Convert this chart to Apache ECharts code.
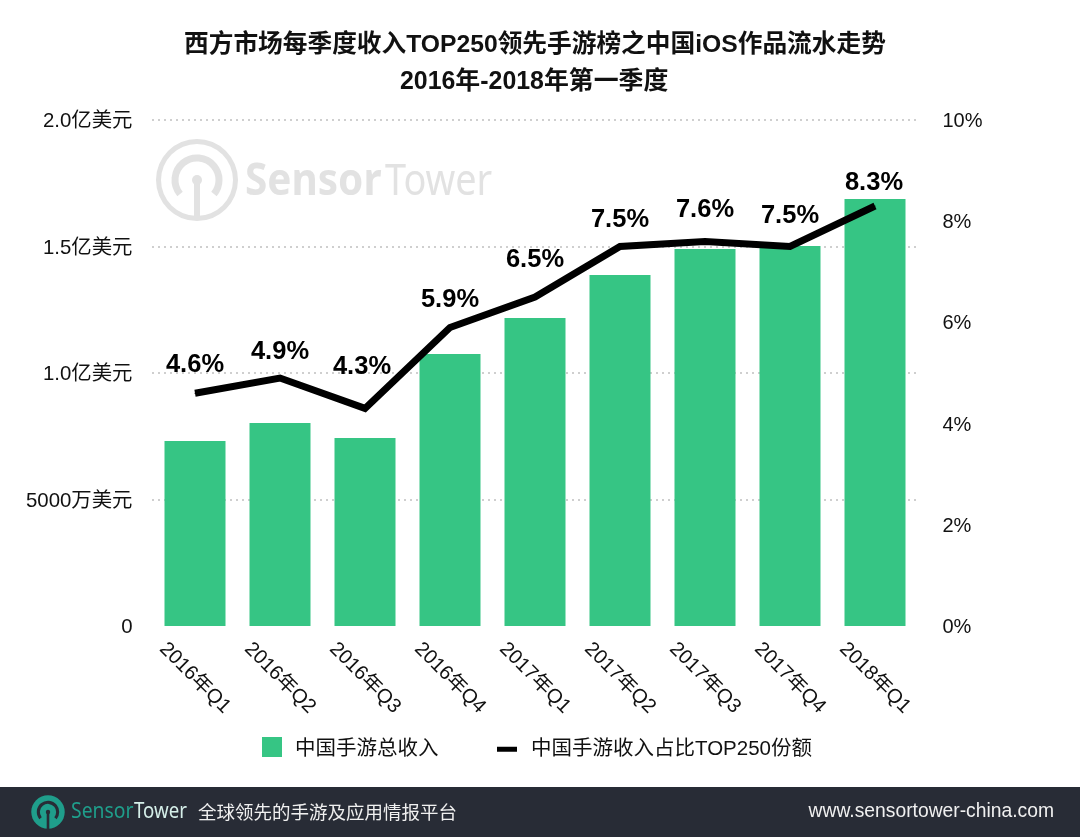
<!DOCTYPE html>
<html>
<head>
<meta charset="utf-8">
<style>html,body{margin:0;padding:0;background:#fff}#main{width:1080px;height:837px}</style>
<script src="https://cdn.jsdelivr.net/npm/echarts@6/dist/echarts.min.js"></script>
</head>
<body>
<div id="main"></div>
<script>
var categories = ['2016年Q1','2016年Q2','2016年Q3','2016年Q4','2017年Q1','2017年Q2','2017年Q3','2017年Q4','2018年Q1'];
// 万美元
var revenue = [7310, 8020, 7430, 10750, 12170, 13870, 14900, 15020, 16880];
var share = [4.6, 4.9, 4.3, 5.9, 6.5, 7.5, 7.6, 7.5, 8.3];
var leftTicks = {0:'0', 5000:'5000万美元', 10000:'1.0亿美元', 15000:'1.5亿美元', 20000:'2.0亿美元'};
var titleLines = ['西方市场每季度收入TOP250领先手游榜之中国iOS作品流水走势', '2016年-2018年第一季度'];
var seriesNames = ['中国手游总收入', '中国手游收入占比TOP250份额'];

var FONT = '"Liberation Sans","Noto Sans CJK SC",sans-serif';
var LOGO_FONT = '"Noto Sans","Noto Sans CJK SC",sans-serif';

// 标签和折线点的距离,原图每个点不一样
var labelGap = [15, 13, 28, 14, 24, 13, 18, 17, 10];
var labelShift = [0, 0, -3, 0, 0, 0, 0, 0, -1];

// 文字整体下移几像素用的rich样式
function nudged(size, top) {
	return { t: { color: '#111', fontSize: size, fontFamily: FONT, padding: [top, 0, 0, 0] } };
}

// 圆形logo,k是缩放
function logo(cx, cy, k, ringColor, inner, filled) {
	var list = [];
	if (filled) {
		list.push({ type: 'circle', silent: true, z: 1, shape: { cx: cx, cy: cy, r: 38 * k }, style: { fill: ringColor } });
	} else {
		list.push({ type: 'ring', silent: true, z: 0, shape: { cx: cx, cy: cy, r: 41 * k, r0: 36 * k }, style: { fill: ringColor } });
	}
	list.push({
		type: 'arc', silent: true, z: filled ? 2 : 0,
		shape: { cx: cx, cy: cy, r: 22 * k, startAngle: Math.PI * 0.78, endAngle: Math.PI * 0.22, clockwise: true },
		style: { stroke: inner, fill: 'none', lineWidth: 7 * k }
	});
	list.push({ type: 'rect', silent: true, z: filled ? 2 : 0, shape: { x: cx - 3 * k, y: cy, width: 6 * k, height: 39 * k }, style: { fill: inner } });
	list.push({ type: 'circle', silent: true, z: filled ? 2 : 0, shape: { cx: cx, cy: cy, r: 5 * k }, style: { fill: inner } });
	return list;
}

// 字体比原图宽,横向压一下
function squeezed(x, y, sx, z, text, fill, font) {
	return { type: 'text', silent: true, z: z, x: x, y: y, scaleX: sx, style: { x: 0, y: 0, text: text, fill: fill, font: font, verticalAlign: 'middle' } };
}

var graphics = [
	{ type: 'rect', silent: true, z: 0, shape: { x: 0, y: 787, width: 1080, height: 50 }, style: { fill: '#282c36' } },
	squeezed(245, 182, 0.92, 0, 'Sensor', '#e2e2e2', 'bold 44px ' + LOGO_FONT),
	squeezed(385, 182, 0.86, 0, 'Tower', '#e2e2e2', '44px ' + LOGO_FONT),
	squeezed(71, 812, 0.88, 2, 'Sensor', '#1f9e8b', '22px ' + LOGO_FONT),
	squeezed(134, 812, 0.85, 2, 'Tower', '#d5efe9', '22px ' + LOGO_FONT),
	{ type: 'text', silent: true, z: 2, style: { x: 198, y: 812, text: '全球领先的手游及应用情报平台', fill: '#f0f0f0', font: '18.5px "Noto Sans CJK SC"', verticalAlign: 'middle' } },
	{ type: 'text', silent: true, z: 2, style: { x: 1054, y: 812, text: 'www.sensortower-china.com', fill: '#f0f0f0', font: '19.3px ' + FONT, align: 'right', verticalAlign: 'middle' } }
].concat(logo(197, 180, 1, '#e2e2e2', '#e2e2e2', false), logo(48, 812, 0.44, '#1f9e8b', '#282c36', true));

var chart = echarts.init(document.getElementById('main'), null, { renderer: 'canvas' });
chart.setOption({
	backgroundColor: '#fff',
	animation: false,
	textStyle: { fontFamily: FONT },
	title: [
		{ text: titleLines[0], left: 179, top: 28, textStyle: { color: '#111', fontSize: 24.7, fontWeight: 'bold', fontFamily: FONT } },
		{ text: titleLines[1], left: 395, top: 65, textStyle: { color: '#111', fontSize: 24.9, fontWeight: 'bold', fontFamily: FONT } }
	],
	graphic: graphics,
	legend: [{
		left: 257, top: 732, itemWidth: 20, itemHeight: 20,
		formatter: '{t|{name}}',
		textStyle: { padding: [0, 0, 0, 8], rich: nudged(20.5, 4) },
		data: [{ name: seriesNames[0], icon: 'rect' }]
	}, {
		left: 492, top: 734, itemWidth: 20, itemHeight: 5,
		formatter: '{t|{name}}',
		textStyle: { padding: [0, 0, 0, 9], rich: nudged(20.5, 0) },
		data: [{ name: seriesNames[1], icon: 'rect' }]
	}],
	grid: { left: 152.5, right: 162.5, top: 120, bottom: 211, containLabel: false },
	xAxis: {
		type: 'category', data: categories,
		axisLine: { show: false }, axisTick: { show: false },
		axisLabel: { rotate: -45, align: 'center', verticalAlign: 'middle', margin: 52, interval: 0, color: '#111', fontSize: 20 }
	},
	yAxis: [{
		type: 'value', min: 0, max: 20000, interval: 5000,
		axisLine: { show: false }, axisTick: { show: false },
		axisLabel: { margin: 20, rich: nudged(20.4, 3), formatter: function(v) { return '{t|' + leftTicks[v] + '}'; } },
		splitLine: { show: true, showMinLine: false, lineStyle: { color: '#a0a0a0', type: [1, 5], width: 2 } }
	}, {
		type: 'value', min: 0, max: 10, interval: 2,
		axisLine: { show: false }, axisTick: { show: false },
		axisLabel: { margin: 25, rich: nudged(20, 3), formatter: '{t|{value}%}' },
		splitLine: { show: false }
	}],
	series: [{
		name: seriesNames[0], type: 'bar', data: revenue, barWidth: 61, z: 2,
		itemStyle: { color: '#36c584' }
	}, {
		name: seriesNames[1], type: 'line', yAxisIndex: 1, z: 3, symbol: 'circle', symbolSize: 1, showSymbol: true,
		lineStyle: { color: '#000', width: 7, cap: 'butt', join: 'miter' },
		itemStyle: { color: '#000' },
		data: share.map(function(v, i) {
			return { value: v, label: { show: true, position: 'top', distance: labelGap[i], offset: [labelShift[i], 0], formatter: '{c}%', color: '#000', fontSize: 25.5, fontWeight: 'bold' } };
		})
	}]
});
</script>
</body>
</html>
